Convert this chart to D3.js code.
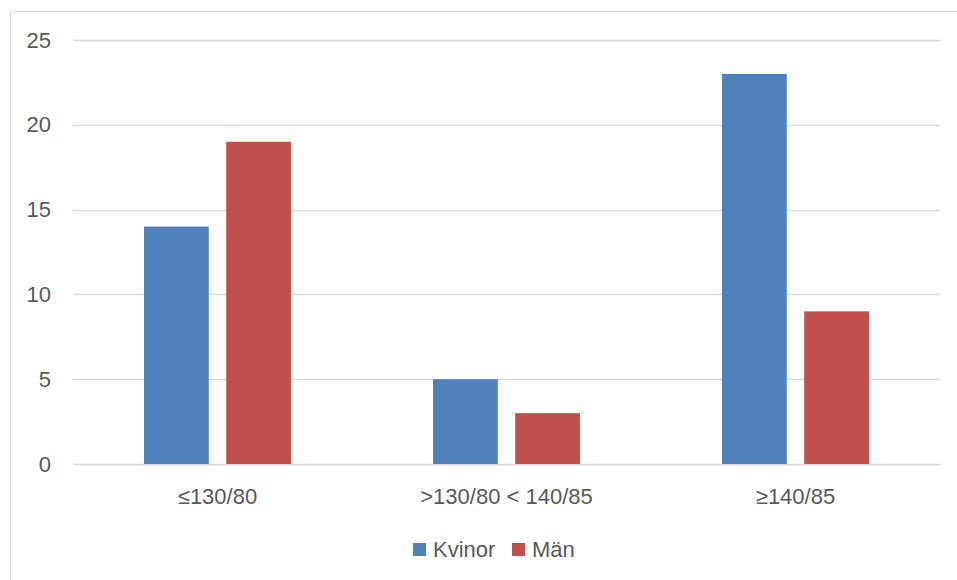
<!DOCTYPE html>
<html>
<head>
<meta charset="utf-8">
<script src="https://cdn.jsdelivr.net/npm/d3@7"></script>
<style>
  html, body { margin: 0; padding: 0; background: #fff; }
  svg { display: block; }
  text { font-family: "Liberation Sans", Arial, sans-serif; fill: #595959; }
</style>
</head>
<body>
<svg id="chart" width="957" height="580"></svg>
<script>
// Blood pressure groups and counts per sex
const categories = ["≤130/80", ">130/80 < 140/85", "≥140/85"];
const seriesNames = ["Kvinor", "Män"];
const kvinor = [14, 5, 23];
const man = [19, 3, 9];
const yTicks = [0, 5, 10, 15, 20, 25];
const colors = ["#4F81BD", "#C0504D"];

const seriesValues = [kvinor, man];
const rows = categories.map((c, i) => ({
  cat: c,
  vals: seriesNames.map((s, j) => ({ key: s, value: seriesValues[j][i], color: colors[j] }))
}));

const fontSize = 22;
const svg = d3.select("#chart");

// outer chart frame
svg.append("rect")
  .attr("x", 10.5).attr("y", 11.5)
  .attr("width", 1000).attr("height", 1000)
  .attr("fill", "none").attr("stroke", "#d9d9d9").attr("stroke-width", 1);

const plotLeft = 73, plotRight = 940, plotTop = 40, plotBottom = 464;

const y = d3.scaleLinear().domain([0, 25]).range([plotBottom, plotTop]);
const x0 = d3.scaleBand().domain(categories).range([plotLeft, plotRight]).padding(0);
const x1 = d3.scaleBand().domain(seriesNames).range([0, x0.bandwidth()])
  .paddingInner(0.212).paddingOuter(0.864);

// gridlines
svg.append("g").selectAll("line").data(yTicks).join("line")
  .attr("x1", plotLeft).attr("x2", plotRight)
  .attr("y1", d => Math.round(y(d)) + 0.5).attr("y2", d => Math.round(y(d)) + 0.5)
  .attr("stroke", "#d9d9d9").attr("stroke-width", 1.3);

// y axis labels
const yAxis = d3.axisLeft(y).tickValues(yTicks).tickSize(0).tickPadding(0);
const gy = svg.append("g").attr("transform", "translate(51,0)").call(yAxis)
  .attr("font-size", fontSize).attr("font-family", "'Liberation Sans', Arial, sans-serif");
gy.select(".domain").remove();
gy.selectAll("text").attr("fill", "#595959");

// bars
const groups = svg.append("g").selectAll("g").data(rows).join("g")
  .attr("transform", d => `translate(${x0(d.cat)},0)`);
groups.selectAll("rect").data(d => d.vals).join("rect")
  .attr("x", d => x1(d.key))
  .attr("width", x1.bandwidth())
  .attr("y", d => y(d.value))
  .attr("height", d => y(0) - y(d.value))
  .attr("fill", d => d.color);

// x axis labels
const xAxis = d3.axisBottom(x0).tickSize(0).tickPadding(0);
const gx = svg.append("g").attr("transform", `translate(0,${plotBottom + 24})`).call(xAxis)
  .attr("font-size", fontSize).attr("font-family", "'Liberation Sans', Arial, sans-serif");
gx.select(".domain").remove();
gx.selectAll("text").attr("fill", "#595959");

// legend
const legendX = [413, 512];
const legend = svg.append("g").selectAll("g").data(seriesNames).join("g")
  .attr("transform", (d, i) => `translate(${legendX[i]},543)`);
legend.append("rect").attr("width", 13).attr("height", 13)
  .attr("fill", (d, i) => colors[i]);
legend.append("text").attr("x", 20).attr("y", 14)
  .attr("font-size", fontSize).text(d => d);
</script>
</body>
</html>
